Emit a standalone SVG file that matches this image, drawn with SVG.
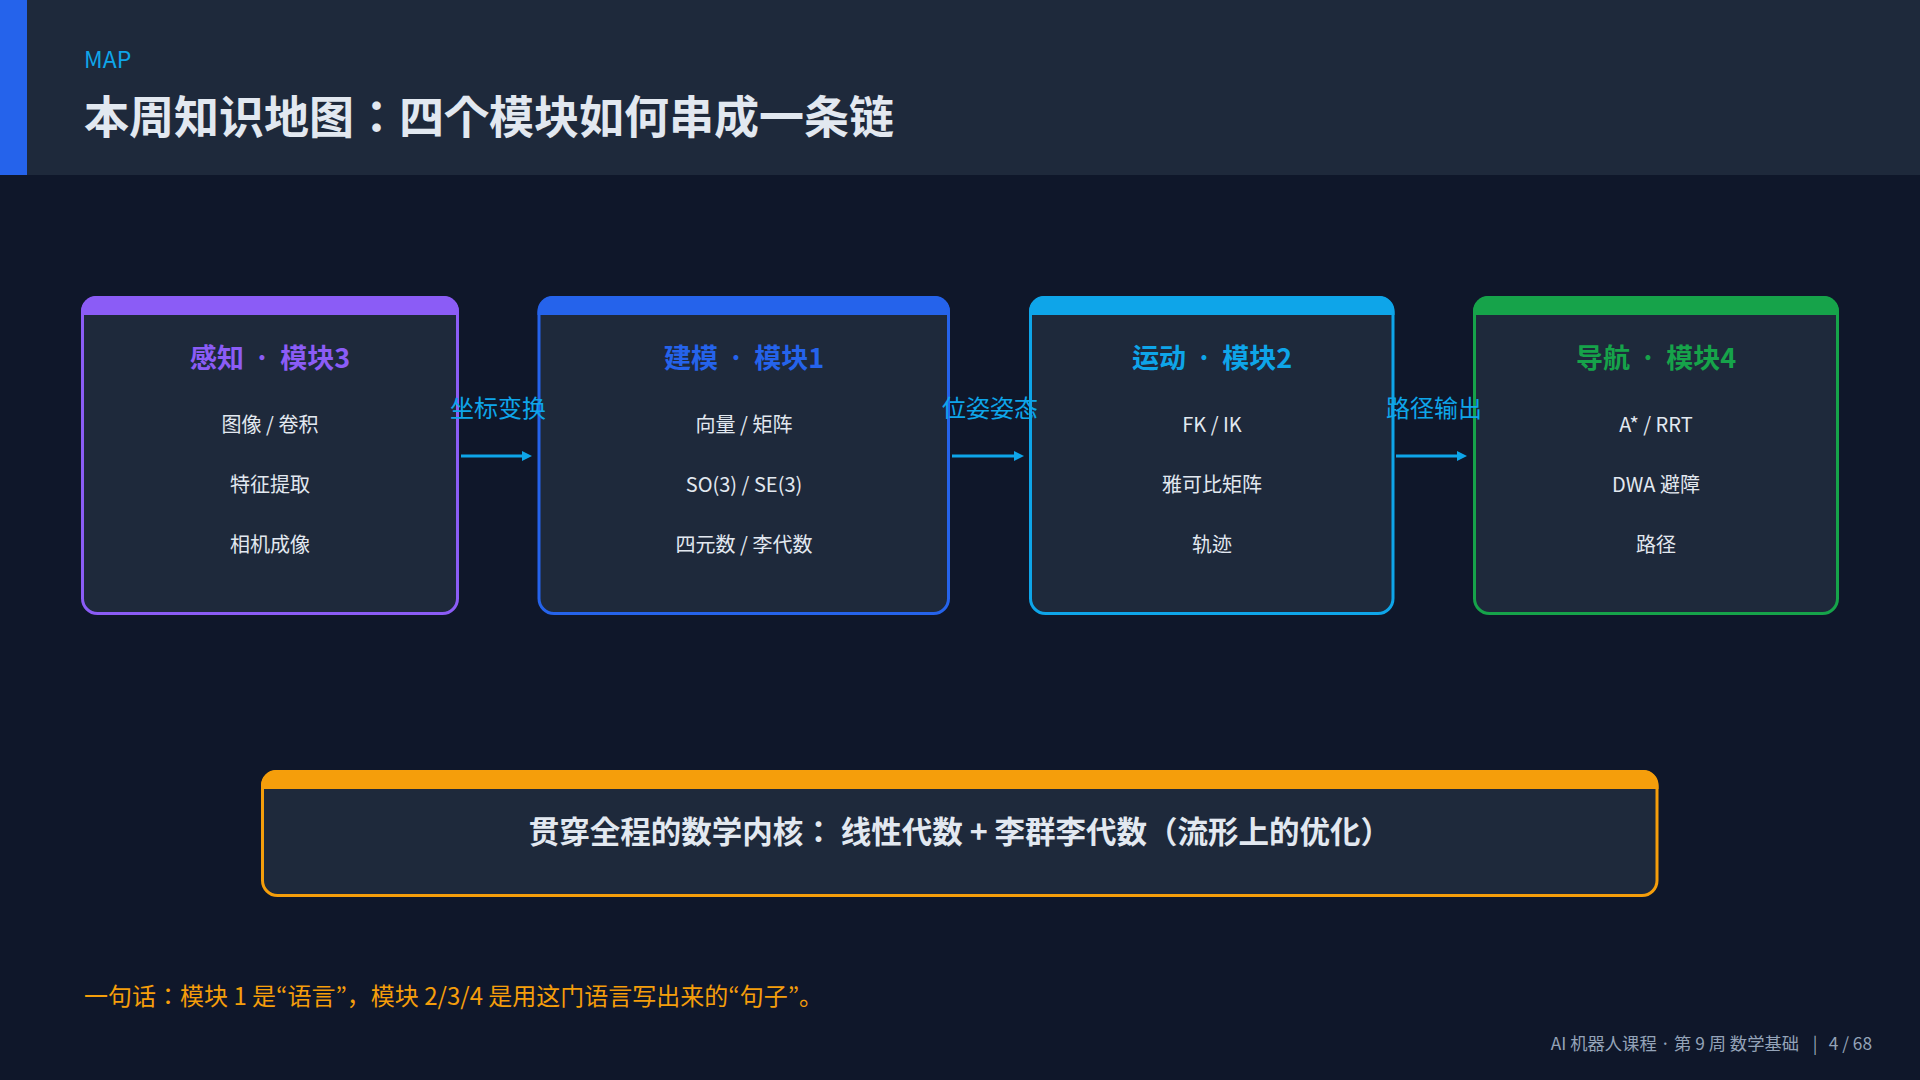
<svg xmlns="http://www.w3.org/2000/svg" width="1920" height="1080" viewBox="0 0 1920 1080">
<style>
text{font-family:"Noto Sans CJK JP","Noto Sans CJK SC","Noto Sans",sans-serif;}
.box{fill:#1e293b;stroke-width:3;}
.ttl{font-size:27px;font-weight:700;text-anchor:middle;word-spacing:4px;}
.item{font-size:20px;fill:#e2e8f0;text-anchor:middle;}
.lbl{font-size:24px;fill:#0ea5e9;text-anchor:middle;}
.conn{stroke:#0ea5e9;stroke-width:3;fill:none;}
</style>
<defs>
<marker id="ah" markerUnits="userSpaceOnUse" markerWidth="10" markerHeight="10" viewBox="0 0 10 10" refX="2" refY="5" orient="auto">
<path d="M0,0 L10,5 L0,10 Z" fill="#0ea5e9"/>
</marker>
</defs>
<rect width="1920" height="1080" fill="#0f172a"/>
<g id="header">
<rect x="0" y="0" width="1920" height="175" fill="#1e293b"/>
<rect x="0" y="0" width="27" height="175" fill="#2563eb"/>
<text x="84" y="68" font-size="23" fill="#0ea5e9">MAP</text>
<text x="84" y="134" font-size="45" font-weight="700" fill="#e2e8f0">本周知识地图：四个模块如何串成一条链</text>
</g>
<g id="node-perception">
<rect class="box" x="82.5" y="297.5" width="375" height="316" rx="15" stroke="#8b5cf6"/>
<path d="M81,315 V311 A15,15 0 0 1 96,296 H444 A15,15 0 0 1 459,311 V315 Z" fill="#8b5cf6"/>
<text class="ttl" x="270" y="368" fill="#8b5cf6">感知 · 模块3</text>
<text class="item" x="270" y="432">图像 / 卷积</text>
<text class="item" x="270" y="492">特征提取</text>
<text class="item" x="270" y="552">相机成像</text>
</g>
<g id="node-modeling">
<rect class="box" x="539" y="297.5" width="409.5" height="316" rx="15" stroke="#2563eb"/>
<path d="M537.5,315 V311 A15,15 0 0 1 552.5,296 H935 A15,15 0 0 1 950,311 V315 Z" fill="#2563eb"/>
<text class="ttl" x="744" y="368" fill="#2563eb">建模 · 模块1</text>
<text class="item" x="744" y="432">向量 / 矩阵</text>
<text class="item" x="744" y="492">SO(3) / SE(3)</text>
<text class="item" x="744" y="552">四元数 / 李代数</text>
</g>
<g id="node-motion">
<rect class="box" x="1030.5" y="297.5" width="362.5" height="316" rx="15" stroke="#0ea5e9"/>
<path d="M1029,315 V311 A15,15 0 0 1 1044,296 H1379.5 A15,15 0 0 1 1394.5,311 V315 Z" fill="#0ea5e9"/>
<text class="ttl" x="1212" y="368" fill="#0ea5e9">运动 · 模块2</text>
<text class="item" x="1212" y="432">FK / IK</text>
<text class="item" x="1212" y="492">雅可比矩阵</text>
<text class="item" x="1212" y="552">轨迹</text>
</g>
<g id="node-navigation">
<rect class="box" x="1474.5" y="297.5" width="363" height="316" rx="15" stroke="#16a34a"/>
<path d="M1473,315 V311 A15,15 0 0 1 1488,296 H1824 A15,15 0 0 1 1839,311 V315 Z" fill="#16a34a"/>
<text class="ttl" x="1656" y="368" fill="#16a34a">导航 · 模块4</text>
<text class="item" x="1656" y="432">A* / RRT</text>
<text class="item" x="1656" y="492">DWA 避障</text>
<text class="item" x="1656" y="552">路径</text>
</g>
<g id="connectors">
<line class="conn" x1="461" y1="456" x2="524" y2="456" marker-end="url(#ah)"/>
<text class="lbl" x="498" y="417">坐标变换</text>
<line class="conn" x1="952" y1="456" x2="1016" y2="456" marker-end="url(#ah)"/>
<text class="lbl" x="990" y="417">位姿姿态</text>
<line class="conn" x1="1396" y1="456" x2="1459" y2="456" marker-end="url(#ah)"/>
<text class="lbl" x="1434" y="417">路径输出</text>
</g>
<g id="node-core">
<rect class="box" x="262.5" y="771.5" width="1394.5" height="124" rx="15" stroke="#f59e0b"/>
<path d="M261,789 V785 A15,15 0 0 1 276,770 H1643.5 A15,15 0 0 1 1658.5,785 V789 Z" fill="#f59e0b"/>
<text x="960" y="843" font-size="30.5" font-weight="700" fill="#e2e8f0" text-anchor="middle">贯穿全程的数学内核： 线性代数 + 李群李代数（流形上的优化）</text>
</g>
<g id="footnote">
<text x="84" y="1005" font-size="24" fill="#f59e0b">一句话：模块 1 是“语言”，模块 2/3/4 是用这门语言写出来的“句子”。</text>
</g>
<g id="footer" font-size="17.3" fill="#94a3b8">
<text x="1799" y="1050" text-anchor="end">AI 机器人课程 · 第 9 周 数学基础</text>
<text x="1815" y="1050" text-anchor="middle">|</text>
<text x="1872" y="1050" text-anchor="end">4 / 68</text>
</g>
</svg>
